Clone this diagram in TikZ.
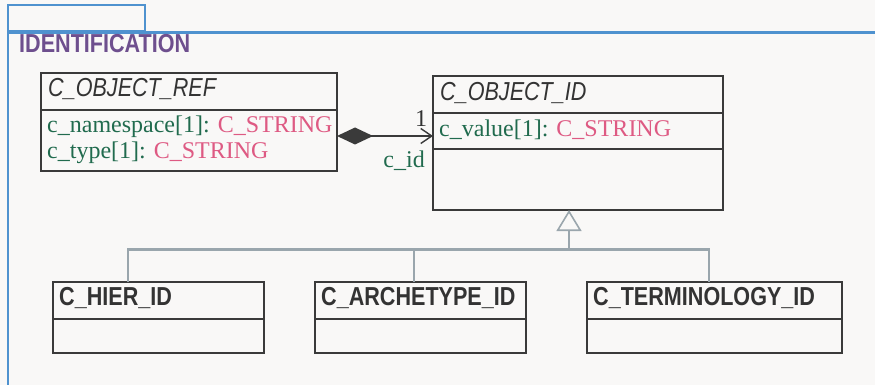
\documentclass[tikz,border=0pt]{standalone}
\usepackage{fontspec}
\setmainfont{Liberation Serif}
\newfontfamily\narrowsans[FakeStretch=0.83]{Liberation Sans}
\usetikzlibrary{arrows.meta}
\definecolor{bg}{HTML}{F9F8F7}
\definecolor{frameblue}{HTML}{4F92CF}
\definecolor{boxline}{HTML}{3A3A3A}
\definecolor{titlecol}{HTML}{333333}
\definecolor{attrgreen}{HTML}{216B4E}
\definecolor{typepink}{HTML}{DE5A83}
\definecolor{pkgpurple}{HTML}{6E4F8E}
\definecolor{genline}{HTML}{9AA6AD}
\tikzset{
  umlbox/.style={draw=boxline, line width=1.1pt, anchor=north west, inner sep=0pt, outer sep=0pt, fill=bg},
  divider/.style={draw=boxline, line width=1.1pt},
  abstitle/.style={anchor=base west, inner sep=0pt, text=titlecol, font=\narrowsans\itshape\fontsize{26}{30}\selectfont},
  cltitle/.style={anchor=base west, inner sep=0pt, text=titlecol, font=\narrowsans\bfseries\fontsize{26}{30}\selectfont},
  attr/.style={anchor=base west, inner sep=0pt, text=attrgreen, font=\fontsize{24}{28}\selectfont},
  pkgtitle/.style={anchor=base west, inner sep=0pt, text=pkgpurple, font=\narrowsans\bfseries\fontsize{26}{30}\selectfont},
  assoclabel/.style={inner sep=0pt, font=\fontsize{24}{28}\selectfont},
  comp/.style={draw=boxline, line width=2.4pt, {Diamond[length=36pt,width=17pt,fill=boxline]}-{Straight Barb[length=11pt,width=15pt,line width=1.4pt]}},
  genconn/.style={draw=genline, line width=2.2pt},
}
\begin{document}
\begin{tikzpicture}[x=1pt,y=-1pt]
\path[fill=bg] (0,0) rectangle (875,385);
\useasboundingbox (0,0) rectangle (875,385);
% package frame
\draw[frameblue, line width=2.2pt] (8,5) rectangle (145,31);
\draw[frameblue, line width=2.2pt] (880,32.5) -- (8,32.5) -- (8,392);
\node[pkgtitle] (pkg) at (19,53) {IDENTIFICATION};

% C_OBJECT_REF
\node[umlbox, minimum width=296pt, minimum height=98pt] (ref) at (41,73) {};
\draw[divider] ([yshift=-37pt]ref.north west) -- ([yshift=-37pt]ref.north east);
\node[abstitle] (reft) at (48,97) {C\_OBJECT\_REF};
\node[attr] (refa1) at (47,132) {c\_namespace[1]: \textcolor{typepink}{C\_STRING}};
\node[attr] (refa2) at (47,158) {c\_type[1]: \textcolor{typepink}{C\_STRING}};

% C_OBJECT_ID
\node[umlbox, minimum width=290pt, minimum height=134pt] (id) at (433,76) {};
\draw[divider] ([yshift=-37pt]id.north west) -- ([yshift=-37pt]id.north east);
\draw[divider] ([yshift=-73pt]id.north west) -- ([yshift=-73pt]id.north east);
\node[abstitle] (idt) at (440,101) {C\_OBJECT\_ID};
\node[attr] (ida1) at (439,136) {c\_value[1]: \textcolor{typepink}{C\_STRING}};

% children
\node[umlbox, minimum width=211pt, minimum height=71pt] (hier) at (53,282) {};
\draw[divider] ([yshift=-37pt]hier.north west) -- ([yshift=-37pt]hier.north east);
\node[cltitle] (hiert) at (59,305) {C\_HIER\_ID};

\node[umlbox, minimum width=211pt, minimum height=71pt] (arch) at (315,282) {};
\draw[divider] ([yshift=-37pt]arch.north west) -- ([yshift=-37pt]arch.north east);
\node[cltitle] (archt) at (321,305) {C\_ARCHETYPE\_ID};

\node[umlbox, minimum width=255pt, minimum height=71pt] (term) at (587,282) {};
\draw[divider] ([yshift=-37pt]term.north west) -- ([yshift=-37pt]term.north east);
\node[cltitle] (termt) at (593,305) {C\_TERMINOLOGY\_ID};

% composition
\draw[comp] ([yshift=-14pt]ref.east) -- ([yshift=7pt]id.west);
\node[assoclabel, anchor=base west, text=titlecol] (mult) at (415,127) {1};
\node[assoclabel, anchor=base east, text=attrgreen] (role) at (425,167) {c\_id};

% generalization
\coordinate (junc) at (569,249.5);
\draw[genconn] ([xshift=-30.5pt]hier.north) |- (junc);
\draw[genconn] ([xshift=-6.5pt]arch.north) |- (junc);
\draw[genconn] ([xshift=-5.5pt]term.north) |- (junc);
\draw[genconn, line width=1.6pt, -{Triangle[open, length=21pt, width=25pt, fill=bg]}] (junc) -- ([xshift=-9pt]id.south);
\end{tikzpicture}
\end{document}
